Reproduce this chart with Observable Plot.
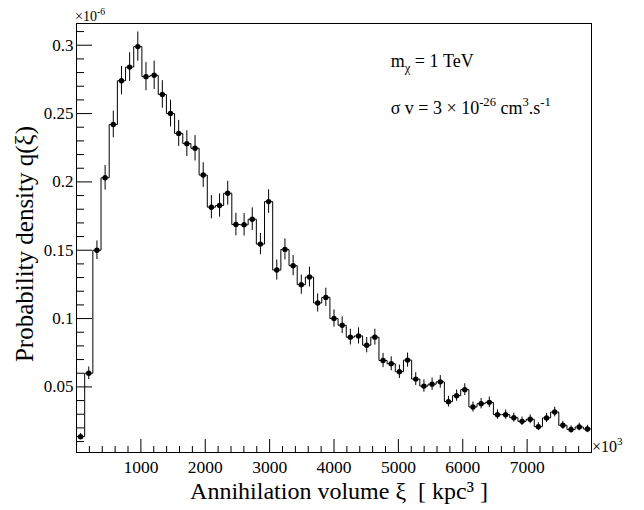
<!DOCTYPE html>
<html><head><meta charset="utf-8">
<script src="https://cdn.jsdelivr.net/npm/d3@7"></script>
<script src="https://cdn.jsdelivr.net/npm/@observablehq/plot@0.6"></script>
<style>html,body{margin:0;padding:0;background:#fff;overflow:hidden}</style>
</head><body><div id="chart"></div>
<script>
// Probability density q(xi), in units of 1e-6, one value per bin (63 bins over 0..8000 x 10^3 kpc^3)
const density = [
  0.0136, 0.060, 0.150, 0.203, 0.242, 0.274, 0.284, 0.299, 0.277, 0.278,
  0.264, 0.250, 0.2355, 0.228, 0.2246, 0.205, 0.1815, 0.1827, 0.1917, 0.1688,
  0.1686, 0.1727, 0.1545, 0.1856, 0.1355, 0.1506, 0.1387, 0.1248, 0.1304, 0.1114,
  0.1155, 0.100, 0.0951, 0.0864, 0.0873, 0.0805, 0.0864, 0.0693, 0.0669, 0.0611,
  0.0696, 0.0557, 0.0506, 0.0520, 0.0537, 0.0392, 0.0436, 0.0480, 0.0353, 0.0377,
  0.0387, 0.0297, 0.0297, 0.0275, 0.0248, 0.0263, 0.0209, 0.0273, 0.0316, 0.0219,
  0.0188, 0.0207, 0.0192
];
const errors = [
  0.0023, 0.0046, 0.0068, 0.0090, 0.0098, 0.0103, 0.0105, 0.0107, 0.0103, 0.0104,
  0.0101, 0.0098, 0.0095, 0.0094, 0.0093, 0.0090, 0.0085, 0.0085, 0.0087, 0.0082,
  0.0082, 0.0083, 0.0078, 0.0086, 0.0074, 0.0077, 0.0074, 0.0070, 0.0072, 0.0066,
  0.0067, 0.0063, 0.0061, 0.0058, 0.0059, 0.0056, 0.0058, 0.0052, 0.0051, 0.0049,
  0.0052, 0.0047, 0.0045, 0.0045, 0.0046, 0.0039, 0.0041, 0.0043, 0.0037, 0.0038,
  0.0039, 0.0034, 0.0034, 0.0033, 0.0031, 0.0032, 0.0029, 0.0033, 0.0035, 0.0029,
  0.0027, 0.0028, 0.0027
];
const xRange = [0, 8000];
const yRange = [0.002, 0.3159];
const xMajorTicks = [1000, 2000, 3000, 4000, 5000, 6000, 7000];
const xMinorTicks = [200, 400, 600, 800, 1200, 1400, 1600, 1800, 2200, 2400, 2600, 2800,
  3200, 3400, 3600, 3800, 4200, 4400, 4600, 4800, 5200, 5400, 5600, 5800,
  6200, 6400, 6600, 6800, 7200, 7400, 7600, 7800];
const yMajorTicks = [0.05, 0.1, 0.15, 0.2, 0.25, 0.3];
const yMinorTicks = [0.01, 0.02, 0.03, 0.04, 0.06, 0.07, 0.08, 0.09, 0.11, 0.12, 0.13, 0.14,
  0.16, 0.17, 0.18, 0.19, 0.21, 0.22, 0.23, 0.24, 0.26, 0.27, 0.28, 0.29, 0.31];
const xTitle = "Annihilation volume ξ  [ kpc³ ]";
const yTitle = "Probability density q(ξ)";

const font = "'Liberation Serif', serif";
const nBins = density.length;
const binW = (xRange[1] - xRange[0]) / nBins;
const bins = density.map((v, i) => ({
  lo: xRange[0] + i * binW, hi: xRange[0] + (i + 1) * binW,
  mid: xRange[0] + (i + 0.5) * binW, v, e: errors[i]
}));
const step = [{x: xRange[0], y: yRange[0]}]
  .concat(bins.flatMap(b => [{x: b.lo, y: b.v}, {x: b.hi, y: b.v}]))
  .concat([{x: xRange[1], y: yRange[0]}]);

const W = 644, H = 510, mT = 23, mR = 53, mB = 58, mL = 76;

const chart = Plot.plot({
  width: W, height: H,
  marginTop: mT, marginRight: mR, marginBottom: mB, marginLeft: mL,
  style: {fontFamily: font, background: "white", color: "black", overflow: "visible"},
  x: {domain: xRange},
  y: {domain: yRange},
  marks: [
    Plot.axisX(xMinorTicks, {tickSize: -6, text: null, label: null, stroke: "black"}),
    Plot.axisX(xMajorTicks, {tickSize: -13, text: null, label: null, stroke: "black"}),
    Plot.axisX(xMajorTicks, {tickSize: 0, tickPadding: 8, fontSize: 17.5, fontFamily: font, label: null, tickFormat: d => String(d)}),
    Plot.axisY(yMinorTicks, {tickSize: -8, text: null, label: null, stroke: "black"}),
    Plot.axisY(yMajorTicks, {tickSize: -16, text: null, label: null, stroke: "black"}),
    Plot.axisY(yMajorTicks, {tickSize: 0, tickPadding: 3, fontSize: 17, fontFamily: font, label: null, tickFormat: d3.format("~g")}),
    Plot.line(step, {x: "x", y: "y", stroke: "black", strokeWidth: 1}),
    Plot.ruleX(bins, {x: "mid", y1: d => d.v - d.e, y2: d => d.v + d.e, stroke: "black", strokeWidth: 1}),
    Plot.dot(bins, {x: "mid", y: "v", r: 2.7, fill: "black", stroke: "none"}),
    Plot.frame({stroke: "black", strokeWidth: 1}),
    Plot.text([yTitle], {text: d => d, frameAnchor: "left", textAnchor: "middle", dx: -52, dy: 6, rotate: -90, fontSize: 25, fontFamily: font, fill: "black"}),
    Plot.text([xTitle], {text: d => d, frameAnchor: "bottom", textAnchor: "middle", dx: 5, dy: 46, fontSize: 24, fontFamily: font, fill: "black"})
  ]
});
document.getElementById("chart").appendChild(chart);

// Rich-text annotations (super/subscripts)
const svg = d3.select(chart);
function rich(x, y, size, parts, anchor) {
  const t = svg.append("text").attr("x", x).attr("y", y)
    .attr("font-family", font).attr("font-size", size).attr("fill", "black")
    .attr("text-anchor", anchor || "start");
  let shift = 0;
  parts.forEach(p => {
    const [str, kind] = Array.isArray(p) ? p : [p, "n"];
    const target = kind === "sup" ? -0.42 * size : kind === "sub" ? 0.3 * size : 0;
    const ts = t.append("tspan").attr("dy", target - shift).text(str);
    if (kind !== "n") ts.attr("font-size", size * 0.7);
    shift = target;
  });
  return t;
}
const frameW = W - mL - mR, frameH = H - mT - mB;
rich(mL + frameW * 0.611, mT + frameH * 0.102, 18, ["m", ["χ", "sub"], " = 1 TeV"]);
rich(mL + frameW * 0.611, mT + frameH * 0.212, 18,
  ["σ v = 3", "\u00A0×\u00A010", ["-26", "sup"], " cm", ["3", "sup"], ".s", ["-1", "sup"]]);
rich(mL - 1, mT - 2, 14, ["×10", ["-6", "sup"]]);
rich(W - mR + 1, H - mB, 16, ["×10", ["3", "sup"]]);
</script>
</body></html>
